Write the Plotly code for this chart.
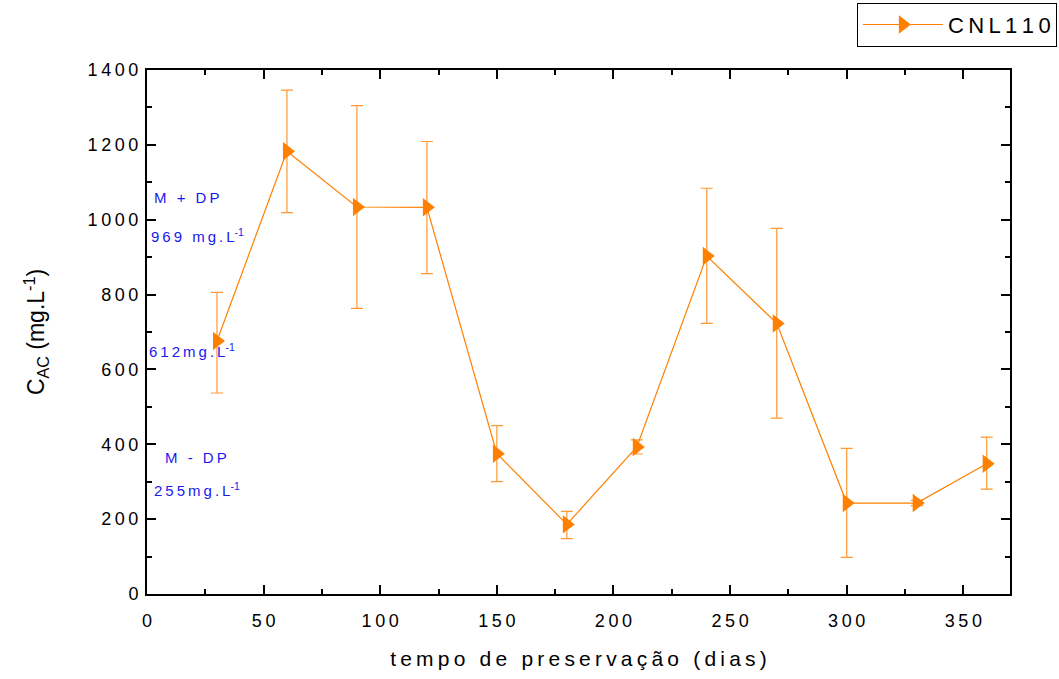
import plotly.graph_objects as go

# Preservation time (days) and measured concentration C_AC (mg/L)
dias = [30, 60, 90, 120, 150, 180, 210, 240, 270, 300, 330, 360]
cac = [676, 1183, 1034, 1033, 375, 186, 393, 903, 723, 243, 243, 348]
# Upper / lower error bar ends
err_sup = [806, 1346, 1305, 1209, 450, 221, 412, 1084, 977, 389, 250, 419]
err_inf = [537, 1019, 763, 856, 300, 148, 374, 723, 470, 98, 236, 280]

x_ticks = [0, 50, 100, 150, 200, 250, 300, 350]
y_ticks = [0, 200, 400, 600, 800, 1000, 1200, 1400]

err_plus = [u - v for u, v in zip(err_sup, cac)]
err_minus = [v - l for v, l in zip(cac, err_inf)]

THIN = "\u2009"


def spaced(s):
    """Widen text by putting a thin space between characters."""
    return THIN.join(s)


orange = "#FF8000"
font_main = "Liberation Sans, Arial, sans-serif"

fig = go.Figure()
fig.add_trace(go.Scatter(
    x=dias, y=cac, name=spaced("CNL110"), mode="lines+markers",
    line=dict(color=orange, width=1.2),
    marker=dict(symbol="triangle-right", size=16, color=orange),
    error_y=dict(type="data", symmetric=False, array=err_plus,
                 arrayminus=err_minus, color="#FF9933", thickness=1.2,
                 width=6),
))

blue = "#1818F0"
notes = [
    (spaced("M + DP"), 2, 1060),
    (spaced("969 mg.L") + "<sup>-1</sup>", 1, 958),
    (spaced("612mg.L") + "<sup>-1</sup>", 0, 650),
    (spaced("M - DP"), 7, 365),
    (spaced("255mg.L") + "<sup>-1</sup>", 2, 280),
]
for txt, xv, yv in notes:
    fig.add_annotation(x=xv, y=yv, xref="x", yref="y", text=txt,
                       showarrow=False, xanchor="left", yanchor="middle",
                       font=dict(family=font_main, size=15, color=blue))

axis_common = dict(
    showline=True, linecolor="black", linewidth=2, mirror="allticks",
    ticks="inside", ticklen=9, tickwidth=2, tickcolor="black",
    showgrid=False, zeroline=False,
    tickfont=dict(family=font_main, size=18, color="black"),
)

fig.update_xaxes(
    range=[0, 370], tickvals=x_ticks,
    ticktext=[spaced(str(v)) for v in x_ticks], ticklabelstandoff=9,
    minor=dict(ticks="inside", ticklen=5, tickwidth=1.5, dtick=25,
               tickcolor="black", showgrid=False),
    title=dict(text=spaced("tempo de preservação (dias)"), standoff=22,
               font=dict(family=font_main, size=21, color="black")),
    **axis_common,
)
fig.update_yaxes(
    range=[0, 1400], tickvals=y_ticks,
    ticktext=[spaced(str(v)) for v in y_ticks], ticklabelstandoff=3,
    minor=dict(ticks="inside", ticklen=5, tickwidth=1.5, dtick=100,
               tickcolor="black", showgrid=False),
    title=dict(text="C<sub>AC</sub> (mg.L<sup>-1</sup>)", standoff=36,
               font=dict(family=font_main, size=23, color="black")),
    **axis_common,
)

fig.update_layout(
    width=1059, height=679,
    margin=dict(l=147, r=49, t=70, b=85, autoexpand=False),
    paper_bgcolor="white", plot_bgcolor="white",
    showlegend=True,
    legend=dict(x=0.998, y=0.996, xref="container", yref="container",
                xanchor="right", yanchor="top",
                bordercolor="black", borderwidth=1, bgcolor="white",
                font=dict(family=font_main, size=22, color="black"),
                itemwidth=80),
)

fig.write_html("out.html")
